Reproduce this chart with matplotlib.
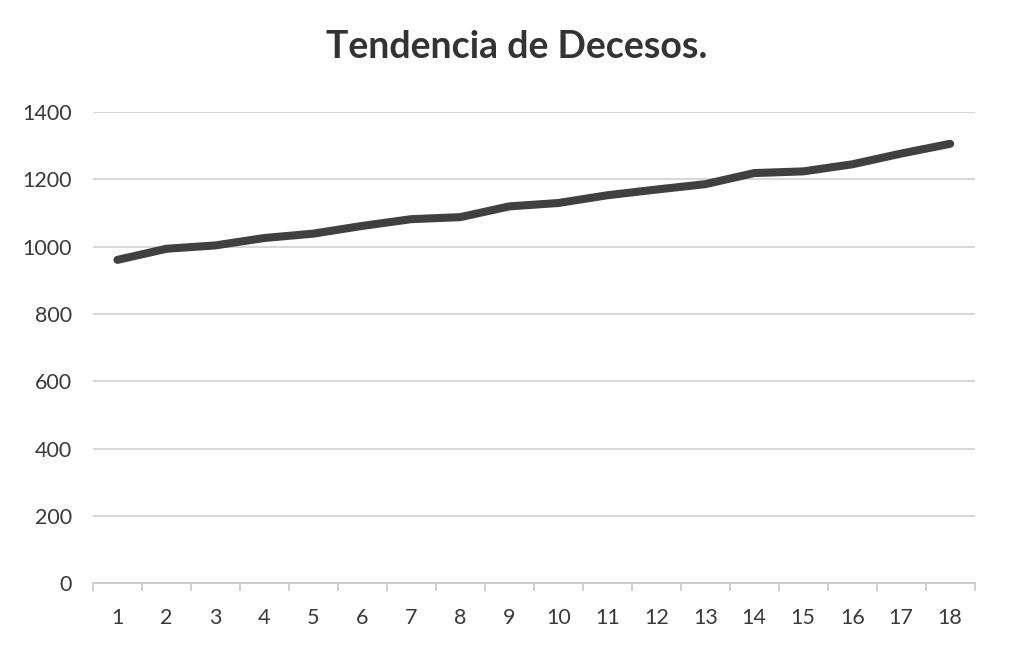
import matplotlib as mpl
import matplotlib.pyplot as plt
import numpy as np
from matplotlib.ticker import FixedLocator

mpl.rcParams['font.family'] = ['Lato', 'DejaVu Sans']

dias = [str(i) for i in range(1, 19)]
decesos = [961, 994, 1004, 1026, 1039, 1062, 1082, 1088, 1120,
           1130, 1153, 1170, 1186, 1219, 1224, 1245, 1277, 1306]
y_ticks = [0, 200, 400, 600, 800, 1000, 1200, 1400]

fig = plt.figure(figsize=(10.24, 6.56), dpi=100)
ax = fig.add_axes([0.0908, 0.111, 0.861, 0.718])

x = np.arange(len(dias))
ax.plot(x, decesos, color='#404040', linewidth=5.8,
        solid_capstyle='round', solid_joinstyle='round', zorder=3)

ax.set_xlim(-0.5, len(dias) - 0.5)
ax.set_ylim(0, 1400)
ax.set_yticks(y_ticks)
ax.set_xticks(x)
ax.set_xticklabels(dias)
ax.xaxis.set_minor_locator(FixedLocator(np.arange(-0.5, len(dias), 1.0)))

ax.grid(axis='y', color='#d4d4d4', linewidth=1.3)
ax.set_axisbelow(True)
for s in ['top', 'right', 'left']:
    ax.spines[s].set_visible(False)
ax.spines['bottom'].set_color('#cccccc')
ax.spines['bottom'].set_linewidth(1.3)

ax.tick_params(axis='y', length=0, pad=15, labelsize=15.5, labelcolor='#3a3a3a')
ax.tick_params(axis='x', which='major', length=0, pad=18, labelsize=15.5, labelcolor='#3a3a3a')
ax.tick_params(axis='x', which='minor', length=6, width=1.3, color='#cccccc')

fig.text(0.505, 0.929, 'Tendencia de Decesos.', ha='center', va='center',
         fontsize=27, fontweight='bold', color='#333333')

fig.savefig('out.png', dpi=100)
